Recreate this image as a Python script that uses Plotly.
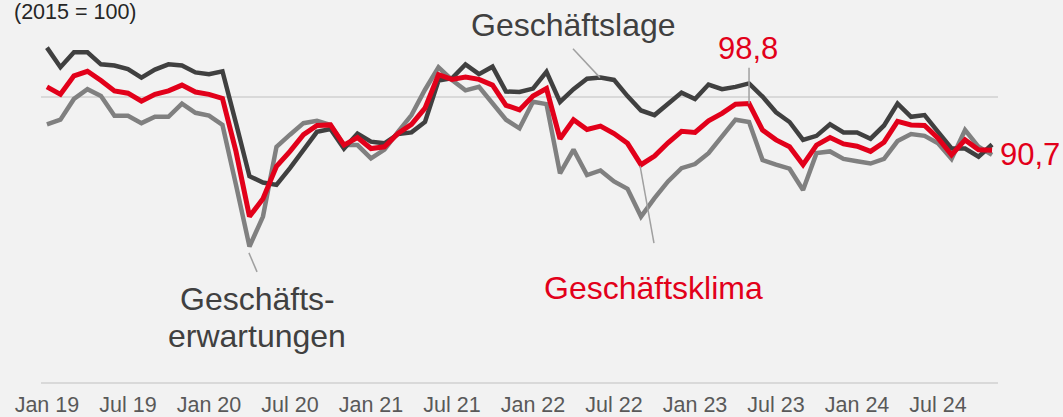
import plotly.graph_objects as go

# --- data -------------------------------------------------------------
month_names = ["Jan", "Feb", "Mär", "Apr", "Mai", "Jun",
               "Jul", "Aug", "Sep", "Okt", "Nov", "Dez"]
months = [f"{month_names[i % 12]} {19 + i // 12}" for i in range(71)]  # Jan 19 .. Nov 24

lage = [108.5, 105.1, 107.7, 107.7, 105.6, 105.4, 104.8, 103.3, 104.7, 105.6, 105.4, 104.2,
        103.9, 104.4, 95.4, 86.2, 85.1, 84.7, 87.6, 90.8, 93.9, 94.4, 91.0, 93.6,
        92.2, 91.9, 93.5, 93.8, 95.6, 102.8, 103.2, 105.6, 103.9, 105.2, 100.9, 100.8,
        101.4, 104.3, 99.1, 101.3, 103.1, 103.3, 102.9, 100.1, 97.6, 96.8, 98.7, 100.7,
        99.6, 102.1, 101.3, 101.7, 102.3, 100.0, 97.3, 95.6, 92.5, 93.2, 95.2, 93.8,
        93.8, 92.7, 95.0, 98.8, 96.5, 96.8, 93.9, 91.0, 91.0, 89.6, 91.7]

klima = [101.7, 100.4, 103.6, 104.4, 102.8, 101.0, 100.6, 99.2, 100.4, 101.0, 102.0, 100.8,
         100.4, 99.7, 90.5, 79.2, 82.3, 87.9, 90.5, 93.4, 95.0, 95.1, 91.6, 92.9,
         91.0, 91.3, 93.6, 95.2, 98.0, 103.8, 103.0, 103.4, 103.0, 102.0, 98.5, 97.7,
         100.1, 101.4, 92.7, 96.0, 94.3, 94.9, 93.6, 91.9, 88.2, 89.7, 92.0, 94.0,
         93.8, 95.8, 97.1, 98.7, 98.8, 94.2, 92.5, 91.3, 88.2, 91.6, 92.9, 91.8,
         91.4, 90.5, 92.1, 95.7, 95.1, 95.0, 92.8, 89.9, 92.5, 90.8, 90.7]

erwartungen = [95.2, 96.0, 99.6, 101.3, 100.1, 96.7, 96.7, 95.4, 96.5, 96.5, 98.8, 97.2,
               96.7, 95.1, 84.7, 74.0, 79.2, 91.3, 93.4, 95.4, 95.8, 95.1, 91.6, 91.6,
               89.3, 90.8, 93.9, 96.8, 101.2, 105.1, 102.9, 101.1, 101.7, 98.8, 96.0, 94.5,
               99.1, 98.7, 86.7, 90.8, 86.4, 87.2, 85.3, 84.0, 79.2, 82.4, 85.3, 87.6,
               88.3, 90.2, 93.1, 96.0, 95.6, 89.0, 88.2, 87.5, 83.8, 90.2, 90.5, 89.2,
               88.8, 88.4, 89.2, 92.3, 93.5, 93.2, 91.9, 89.2, 94.2, 91.3, 89.9]

tick_labels = ["Jan 19", "Jul 19", "Jan 20", "Jul 20", "Jan 21", "Jul 21",
               "Jan 22", "Jul 22", "Jan 23", "Jul 23", "Jan 24", "Jul 24"]

# --- colours / fonts --------------------------------------------------
C_DARK = "#404040"
C_GRAY = "#808080"
C_RED = "#e2001a"
C_GRID = "#d9d9d9"
C_LEAD = "#a0a0a0"
BG = "#f2f2f2"
FONT = "Liberation Sans, Arial, sans-serif"

x = list(range(len(months)))
tickvals = [months.index(t) for t in tick_labels]

fig = go.Figure()
fig.add_trace(go.Scatter(x=x, y=erwartungen, mode="lines", name="Geschäftserwartungen",
                         line=dict(color=C_GRAY, width=4.5), hoverinfo="skip"))
fig.add_trace(go.Scatter(x=x, y=lage, mode="lines", name="Geschäftslage",
                         line=dict(color=C_DARK, width=4.5), hoverinfo="skip"))
fig.add_trace(go.Scatter(x=x, y=klima, mode="lines", name="Geschäftsklima",
                         line=dict(color=C_RED, width=5), hoverinfo="skip"))

# leader lines (data coordinates)
peak_i = klima.index(max(klima[48:60]))
last_i = len(klima) - 1
leaders = [
    (38.96, 108.3, 40.96, lage[41]),          # Geschäftslage
    (peak_i, 105.0, peak_i, klima[peak_i]),   # 98,8
    (43.93, 88.0, 44.96, 74.6),               # Geschäftsklima
    (14.96, 72.9, 15.56, 69.6),               # Geschäftserwartungen
]
for x0, y0, x1, y1 in leaders:
    fig.add_shape(type="line", xref="x", yref="y", x0=x0, y0=y0, x1=x1, y1=y1,
                  line=dict(color=C_LEAD, width=1.5), layer="above")

def fmt(v):
    return f"{v:.1f}".replace(".", ",")

# annotations inside the axis ranges (data coordinates)
ann = [
    dict(x=peak_i - 0.04, y=108.3, text=fmt(klima[peak_i]), color=C_RED, size=31),
    dict(x=15.59, y=64.85, text="Geschäfts-", color=C_DARK, size=32),
    dict(x=15.59, y=58.5, text="erwartungen", color=C_DARK, size=32),
    dict(x=44.96, y=66.8, text="Geschäftsklima", color=C_RED, size=32),
]
for a in ann:
    fig.add_annotation(x=a["x"], y=a["y"], xref="x", yref="y", text=a["text"],
                       showarrow=False, xanchor="center", yanchor="middle",
                       font=dict(family=FONT, size=a["size"], color=a["color"]))

# annotations outside the axis ranges (paper coordinates)
fig.add_annotation(x=0.5569, y=1.041, xref="paper", yref="paper", text="Geschäftslage",
                   showarrow=False, xanchor="center", yanchor="middle",
                   font=dict(family=FONT, size=32, color=C_DARK))
fig.add_annotation(x=1.0, y=0.662, xref="paper", yref="paper", text=fmt(klima[last_i]),
                   showarrow=False, xanchor="left", yanchor="middle",
                   font=dict(family=FONT, size=31, color=C_RED))
fig.add_annotation(x=-0.03, y=1.078, xref="paper", yref="paper", text="(2015 = 100)",
                   showarrow=False, xanchor="left", yanchor="middle",
                   font=dict(family=FONT, size=21.5, color="#262626"))

fig.update_layout(
    width=1063, height=417,
    margin=dict(l=41, r=65, t=39, b=35, autoexpand=False),
    paper_bgcolor=BG, plot_bgcolor=BG,
    showlegend=False,
    font=dict(family=FONT),
)
fig.update_xaxes(range=[-0.44, 70.44], tickmode="array", tickvals=tickvals,
                 ticktext=tick_labels, showgrid=False, zeroline=False,
                 showline=True, linecolor=C_GRID, linewidth=2, ticks="",
                 automargin=False, ticklabelstandoff=2,
                 tickfont=dict(family=FONT, size=21.5, color="#595959"))
fig.update_yaxes(range=[50.5, 110], tickmode="array", tickvals=[100],
                 showticklabels=False, showgrid=True, gridcolor=C_GRID, gridwidth=2,
                 zeroline=False, showline=False, automargin=False)

fig.write_html("out.html",
               config={"displayModeBar": False},
               post_script="document.body.style.margin='0px';"
                           "document.body.style.overflow='hidden';"
                           "document.body.style.background='#f2f2f2';")
